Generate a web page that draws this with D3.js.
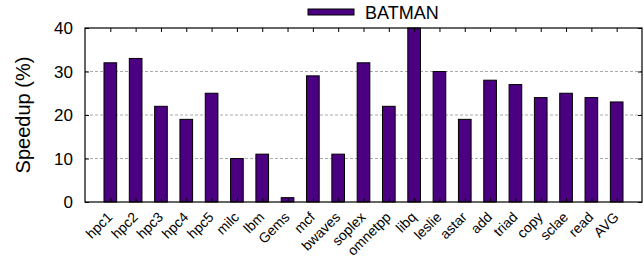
<!DOCTYPE html>
<html>
<head>
<meta charset="utf-8">
<script src="https://cdn.jsdelivr.net/npm/d3@7"></script>
<style>
  body { margin: 0; background: #fff; }
  svg { font-family: "Liberation Sans", Arial, Helvetica, sans-serif; }
</style>
</head>
<body>
<div id="chart"></div>
<script>
var benchmarks = ['hpc1','hpc2','hpc3','hpc4','hpc5','milc','lbm','Gems','mcf','bwaves',
  'soplex','omnetpp','libq','leslie','astar','add','triad','copy','sclae','read','AVG'];
var speedup = [32, 33, 22, 19, 25, 10, 11, 1, 29, 11,
  32, 22, 40, 30, 19, 28, 27, 24, 25, 24, 23];
var yTicks = [0, 10, 20, 30, 40];
var seriesName = 'BATMAN';

var margin = { top: 28, right: 2, bottom: 57, left: 85 },
  width = 644 - margin.left - margin.right,
  height = 259 - margin.top - margin.bottom;

var svg = d3.select('#chart').append('svg')
  .attr('width', 644)
  .attr('height', 259)
  .append('g')
    .attr('transform', 'translate(' + margin.left + ',' + margin.top + ')');

var x = d3.scaleLinear()
  .domain([-1, benchmarks.length])
  .range([0, width]);

var y = d3.scaleLinear()
  .domain([0, 40])
  .range([height, 0]);

var barW = x(0.5) - x(0);
var fill = '#4b0082';

// grid lines
svg.append('g')
  .selectAll('line')
  .data(yTicks.filter(function(d){ return d > 0 && d < 40; }))
  .enter().append('line')
    .attr('x1', 0).attr('x2', width)
    .attr('y1', function(d){ return y(d); })
    .attr('y2', function(d){ return y(d); })
    .attr('stroke', '#aaa')
    .attr('stroke-width', 1)
    .attr('stroke-dasharray', '3,2');

// bars
svg.append('g')
  .selectAll('rect')
  .data(speedup)
  .enter().append('rect')
    .attr('x', function(d, i){ return x(i) - barW / 2; })
    .attr('y', function(d){ return y(d); })
    .attr('width', barW)
    .attr('height', function(d){ return height - y(d); })
    .attr('fill', fill)
    .attr('stroke', '#000')
    .attr('stroke-width', 1);

// axes (ticks pointing inward, mirrored)
var idx = d3.range(benchmarks.length);
svg.append('g')
  .attr('transform', 'translate(0,' + height + ')')
  .call(d3.axisTop(x).tickValues(idx).tickSize(4).tickFormat(''))
  .call(function(g){ g.select('.domain').remove(); });
svg.append('g')
  .call(d3.axisBottom(x).tickValues(idx).tickSize(4).tickFormat(''))
  .call(function(g){ g.select('.domain').remove(); });

svg.append('g')
  .call(d3.axisRight(y).tickValues(yTicks).tickSize(4).tickFormat(''))
  .call(function(g){ g.select('.domain').remove(); });
svg.append('g')
  .attr('transform', 'translate(' + width + ',0)')
  .call(d3.axisLeft(y).tickValues(yTicks).tickSize(4).tickFormat(''))
  .call(function(g){ g.select('.domain').remove(); });

// y tick labels
svg.append('g')
  .selectAll('text')
  .data(yTicks)
  .enter().append('text')
    .attr('x', -12)
    .attr('y', function(d){ return y(d); })
    .attr('dy', '0.36em')
    .style('text-anchor', 'end')
    .style('font-size', '17px')
    .text(function(d){ return d; });

// x tick labels
svg.append('g')
  .selectAll('text')
  .data(benchmarks)
  .enter().append('text')
    .attr('transform', function(d, i){
      return 'translate(' + (x(i) + 3) + ',' + (height + 16) + ') rotate(-45)';
    })
    .style('text-anchor', 'end')
    .style('font-size', '14px')
    .text(function(d){ return d; });

// frame
svg.append('rect')
  .attr('x', 0).attr('y', 0)
  .attr('width', width).attr('height', height)
  .attr('fill', 'none')
  .attr('stroke', '#000')
  .attr('stroke-width', 1.2);

// y axis label
svg.append('text')
  .attr('transform', 'rotate(-90)')
  .attr('x', -height / 2)
  .attr('y', 30 - margin.left)
  .style('text-anchor', 'middle')
  .style('font-size', '20px')
  .text('Speedup (%)');

// legend
var legend = d3.select('svg').append('g');
legend.append('rect')
  .attr('x', 308).attr('y', 9)
  .attr('width', 46).attr('height', 6)
  .attr('fill', fill)
  .attr('stroke', '#000');
legend.append('text')
  .attr('x', 365).attr('y', 19)
  .style('font-size', '18px')
  .text(seriesName);
</script>
</body>
</html>
